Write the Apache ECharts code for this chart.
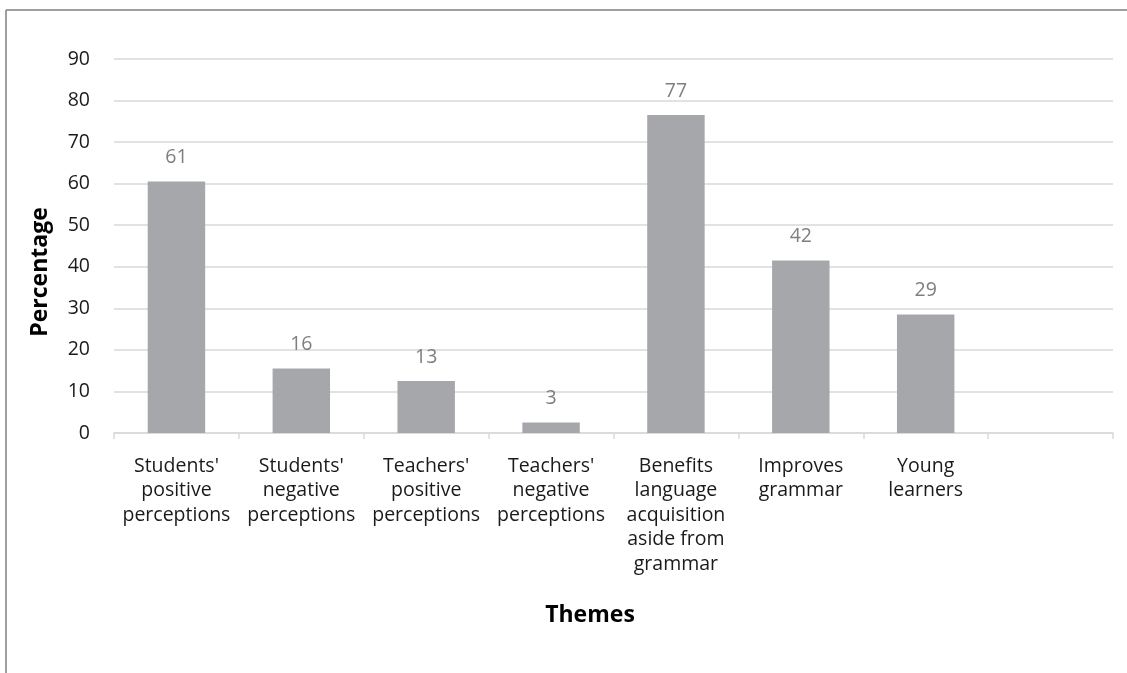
<!DOCTYPE html>
<html>
<head>
<meta charset="utf-8">
<script src="https://cdn.jsdelivr.net/npm/echarts@6/dist/echarts.min.js"></script>
<style>
  html, body { margin: 0; padding: 0; background: #fff; }
  #chart { width: 1127px; height: 673px; }
</style>
</head>
<body>
<div id="chart"></div>
<script>
// chart data
var themes = [
  "Students'\npositive\nperceptions",
  "Students'\nnegative\nperceptions",
  "Teachers'\npositive\nperceptions",
  "Teachers'\nnegative\nperceptions",
  "Benefits\nlanguage\nacquisition\naside from\ngrammar",
  "Improves\ngrammar",
  "Young\nlearners",
  ""
]
var percentages = [60.5, 15.5, 12.5, 2.5, 76.5, 41.5, 28.5, null]
var yTicks = { min: 0, max: 90, interval: 10 }

var font = '"Open Sans", "Liberation Sans", sans-serif'

var myChart = echarts.init(document.getElementById('chart'))
var option = {
  animation: false,
  grid: { left: 114, right: 14, top: 59, bottom: 240 },
  xAxis: {
    type: 'category',
    data: themes,
    axisLine: { lineStyle: { color: '#d9d9d9', width: 1.5 } },
    axisTick: { show: true, length: 6, lineStyle: { color: '#d9d9d9', width: 1.5 } },
    axisLabel: {
      interval: 0,
      margin: 21,
      color: '#1a1a1a',
      fontFamily: font,
      fontSize: 19.5,
      lineHeight: 24.5
    }
  },
  yAxis: {
    type: 'value',
    min: yTicks.min,
    max: yTicks.max,
    interval: yTicks.interval,
    axisLine: { show: false },
    axisTick: { show: false },
    axisLabel: { margin: 24, color: '#1a1a1a', fontFamily: font, fontSize: 19.5 },
    splitLine: { lineStyle: { color: '#d9d9d9', width: 1.5 } }
  },
  series: [
    {
      type: 'bar',
      data: percentages,
      barWidth: '46%',
      itemStyle: { color: '#a6a7ab' },
      label: {
        show: true,
        position: 'top',
        distance: 14,
        color: '#7f7f7f',
        fontFamily: font,
        fontSize: 19.5,
        formatter: function (p) { return Math.round(p.value) }
      }
    }
  ],
  graphic: [
    { type: 'line', shape: { x1: 6, y1: 10, x2: 1127, y2: 10 }, style: { stroke: '#7f7f7f', lineWidth: 1.5 } },
    { type: 'line', shape: { x1: 6, y1: 10, x2: 6, y2: 673 }, style: { stroke: '#7f7f7f', lineWidth: 1.5 } },
    {
      type: 'text', x: 40, y: 272, rotation: Math.PI / 2,
      style: { text: 'Percentage', font: 'bold 23px ' + font, fill: '#000', align: 'center', verticalAlign: 'middle' }
    },
    {
      type: 'text', x: 590, y: 615,
      style: { text: 'Themes', font: 'bold 23px ' + font, fill: '#000', align: 'center', verticalAlign: 'middle' }
    }
  ]
}
myChart.setOption(option)
</script>
</body>
</html>
